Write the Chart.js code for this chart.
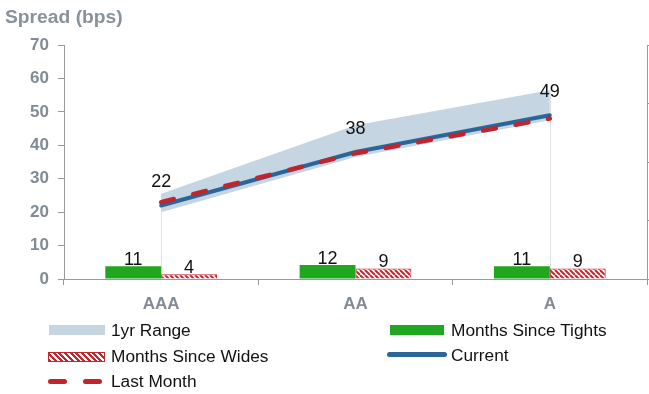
<!DOCTYPE html>
<html>
<head>
<meta charset="utf-8">
<title>Spread by rating</title>
<script src="https://cdn.jsdelivr.net/npm/chart.js@4.4.1/dist/chart.umd.min.js"></script>
<style>
    html, body { margin: 0; padding: 0; background: #fff; }
    #wrap {
        position: relative;
        width: 649px;
        height: 394px;
        font-family: "Liberation Sans", Arial, sans-serif;
    }
    #spreadChart { position: absolute; left: 0; top: 0; }
    .chart-title {
        position: absolute;
        left: 5px;
        top: 7px;
        font-size: 18px;
        font-weight: bold;
        color: #87929b;
        transform: scaleX(1.07);
        transform-origin: left center;
    }
    .legend-item {
        position: absolute;
        font-size: 16px;
        line-height: 20px;
        height: 20px;
        color: #111;
        white-space: nowrap;
        transform: scaleX(1.08);
        transform-origin: left center;
    }
    .swatch { position: absolute; }
    .sw-range { background: #c6d5e2; }
    .sw-tights { background: #1fa71f; }
    .sw-wides {
        box-sizing: border-box;
        border: 1px solid #c6262e;
        background: repeating-linear-gradient(45deg, #c6262e 0 2px, #fff 2px 4px);
    }
    .sw-current { background: #2a6699; border-radius: 3px; }
    .sw-last { background: #c0242c; border-radius: 3px; }
</style>
</head>
<body>
<div id="wrap">
    <canvas id="spreadChart" width="649" height="394"></canvas>
    <div class="chart-title">Spread (bps)</div>

    <div class="swatch sw-range" style="left:49px; top:325px; width:56px; height:10px;"></div>
    <div class="legend-item" style="left:111px; top:321px;">1yr Range</div>

    <div class="swatch sw-wides" style="left:48px; top:352px; width:57px; height:10px;"></div>
    <div class="legend-item" style="left:111px; top:347px;">Months Since Wides</div>

    <div class="swatch sw-last" style="left:48px; top:379px; width:19px; height:5px;"></div>
    <div class="swatch sw-last" style="left:83px; top:379px; width:19px; height:5px;"></div>
    <div class="legend-item" style="left:111px; top:372px;">Last Month</div>

    <div class="swatch sw-tights" style="left:390px; top:325px; width:54px; height:10px;"></div>
    <div class="legend-item" style="left:451px; top:321px;">Months Since Tights</div>

    <div class="swatch sw-current" style="left:387px; top:352px; width:60px; height:5px;"></div>
    <div class="legend-item" style="left:451px; top:346px;">Current</div>
</div>

<script>
document.addEventListener('DOMContentLoaded', function () {
    // Rating buckets and spreads (bps)
    const categories = ['AAA', 'AA', 'A'];
    const currentSpread = [22, 38, 49];
    const lastMonthSpread = [23, 37.6, 48];
    const rangeLow = [20, 36.5, 47.5];
    const rangeHigh = [25.5, 46, 56.5];

    // Months since tights / wides, plotted on the secondary axis
    const monthsSinceTights = [11, 12, 11];
    const monthsSinceWides = [4, 9, 9];

    // Axis ranges
    const spreadTicks = [0, 10, 20, 30, 40, 50, 60, 70];
    const monthTicks = [0, 50, 100, 150, 200];

    const axisGrey = '#9a9a9a';
    const labelGrey = '#808b95';

    // Red diagonal hatch for the "wides" bars
    function makeHatch() {
        const size = 5;
        const c = document.createElement('canvas');
        c.width = size;
        c.height = size;
        const g = c.getContext('2d');
        g.fillStyle = '#fff';
        g.fillRect(0, 0, size, size);
        g.strokeStyle = '#c6262e';
        g.lineWidth = 2;
        for (let k = -size; k <= size; k += size) {
            g.beginPath();
            g.moveTo(k, 0);
            g.lineTo(k + size, size);
            g.stroke();
        }
        return g.createPattern(c, 'repeat');
    }

    // Thin outline at both ends of the 1yr range band
    const bandEdges = {
        id: 'bandEdges',
        beforeDatasetsDraw(chart) {
            const ctx = chart.ctx;
            const x = chart.scales.x;
            const y = chart.scales.y;
            const ends = [0, categories.length - 1];
            ctx.save();
            ctx.strokeStyle = '#dde2e7';
            ctx.lineWidth = 1;
            ends.forEach(i => {
                const px = Math.round(x.getPixelForValue(i)) + 0.5;
                ctx.beginPath();
                ctx.moveTo(px, y.getPixelForValue(rangeHigh[i]));
                ctx.lineTo(px, y.getPixelForValue(0));
                ctx.stroke();
            });
            ctx.restore();
        }
    };

    // Value labels above the current line and the bars
    const valueLabels = {
        id: 'valueLabels',
        afterDatasetsDraw(chart) {
            const ctx = chart.ctx;
            ctx.save();
            ctx.fillStyle = '#111';
            ctx.font = '18px "Liberation Sans", Arial, sans-serif';
            ctx.textAlign = 'center';
            ctx.textBaseline = 'alphabetic';
            chart.data.datasets.forEach((ds, di) => {
                if (!ds.showValues) return;
                const meta = chart.getDatasetMeta(di);
                meta.data.forEach((el, i) => {
                    const gap = ds.type === 'line' ? 18 : 1;
                    ctx.fillText(String(ds.data[i]), el.x, el.y - gap);
                });
            });
            ctx.restore();
        }
    };

    const ctx = document.getElementById('spreadChart').getContext('2d');
    const spreadChart = new Chart(ctx, {
        data: {
            labels: categories,
            datasets: [
                {
                    type: 'line',
                    label: 'range low',
                    data: rangeLow,
                    borderWidth: 0,
                    pointRadius: 0,
                    fill: false,
                    order: 5
                },
                {
                    type: 'line',
                    label: '1yr Range',
                    data: rangeHigh,
                    borderWidth: 0,
                    pointRadius: 0,
                    backgroundColor: '#c6d5e2',
                    fill: '-1',
                    order: 5
                },
                {
                    type: 'bar',
                    label: 'Months Since Tights',
                    data: monthsSinceTights,
                    yAxisID: 'y1',
                    backgroundColor: '#1fa71f',
                    borderWidth: 0,
                    categoryPercentage: 0.575,
                    barPercentage: 1,
                    showValues: true,
                    order: 4
                },
                {
                    type: 'bar',
                    label: 'Months Since Wides',
                    data: monthsSinceWides,
                    yAxisID: 'y1',
                    backgroundColor: makeHatch(),
                    borderColor: '#c6262e',
                    borderWidth: 1,
                    categoryPercentage: 0.575,
                    barPercentage: 1,
                    showValues: true,
                    order: 4
                },
                {
                    type: 'line',
                    label: 'Current',
                    data: currentSpread,
                    borderColor: '#2a6699',
                    borderWidth: 4,
                    borderCapStyle: 'round',
                    pointRadius: 0,
                    tension: 0,
                    fill: false,
                    showValues: true,
                    order: 2
                },
                {
                    type: 'line',
                    label: 'Last Month',
                    data: lastMonthSpread,
                    borderColor: '#c0242c',
                    borderWidth: 4.5,
                    borderDash: [13, 20],
                    borderCapStyle: 'round',
                    pointRadius: 0,
                    tension: 0,
                    fill: false,
                    order: 1
                }
            ]
        },
        options: {
            responsive: false,
            animation: false,
            layout: {
                padding: { top: 45, left: 0, right: 0, bottom: 0 }
            },
            scales: {
                x: {
                    type: 'category',
                    offset: true,
                    afterFit: function (scale) { scale.height = 115; },
                    grid: {
                        offset: true,
                        drawOnChartArea: false,
                        tickLength: 6,
                        color: axisGrey
                    },
                    border: { color: axisGrey, width: 1 },
                    ticks: {
                        color: labelGrey,
                        padding: 9,
                        font: { family: '"Liberation Sans", Arial, sans-serif', size: 17, weight: 'bold' }
                    }
                },
                y: {
                    position: 'left',
                    min: spreadTicks[0],
                    max: spreadTicks[spreadTicks.length - 1],
                    afterFit: function (scale) { scale.width = 64; },
                    afterBuildTicks: function (scale) {
                        scale.ticks = spreadTicks.map(v => ({ value: v }));
                    },
                    grid: {
                        drawOnChartArea: false,
                        tickLength: 6,
                        color: axisGrey
                    },
                    border: { color: axisGrey, width: 1 },
                    ticks: {
                        color: labelGrey,
                        padding: 9,
                        font: { family: '"Liberation Sans", Arial, sans-serif', size: 17, weight: 'bold' }
                    }
                },
                y1: {
                    position: 'right',
                    min: monthTicks[0],
                    max: monthTicks[monthTicks.length - 1],
                    afterFit: function (scale) { scale.width = 2; },
                    afterBuildTicks: function (scale) {
                        scale.ticks = monthTicks.map(v => ({ value: v }));
                    },
                    grid: {
                        drawOnChartArea: false,
                        tickLength: 3,
                        color: axisGrey
                    },
                    border: { color: axisGrey, width: 1 },
                    ticks: { display: false }
                }
            },
            plugins: {
                legend: { display: false },
                title: { display: false },
                tooltip: { enabled: false }
            }
        },
        plugins: [bandEdges, valueLabels]
    });
});
</script>
</body>
</html>
